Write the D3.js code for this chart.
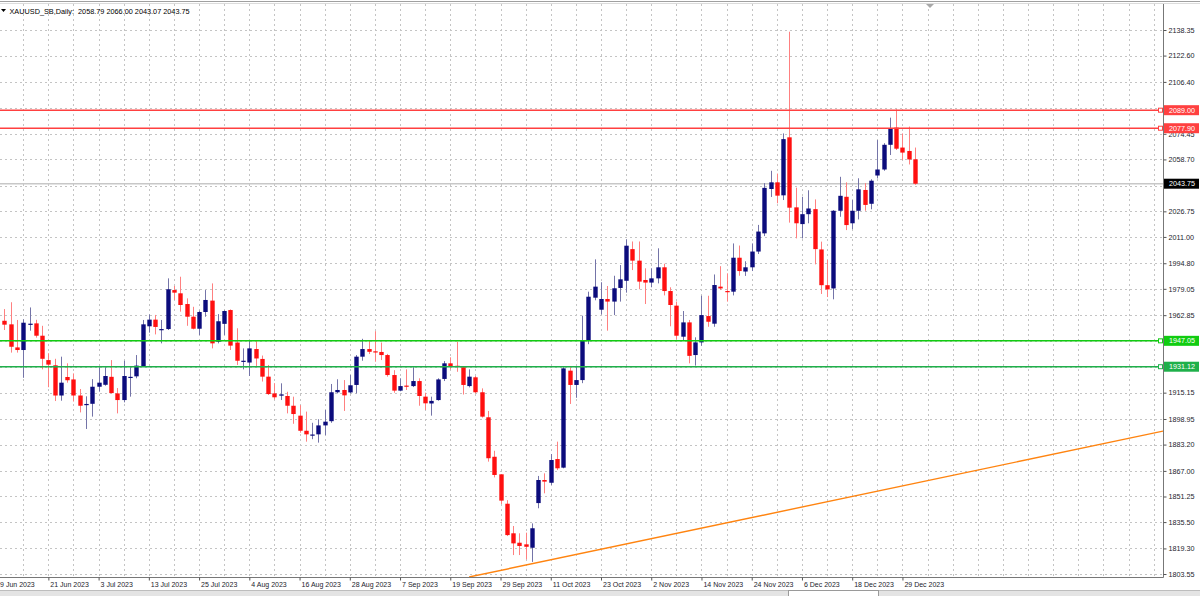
<!DOCTYPE html>
<html>
<head>
<meta charset="utf-8">
<script src="https://cdn.jsdelivr.net/npm/d3@7"></script>
<style>
html, body { margin: 0; padding: 0; background: #fff; }
svg { display: block; font-family: "Liberation Sans", Arial, sans-serif; }
</style>
</head>
<body>
<div id="chart"></div>
<script>
// daily bars, index 0 = 12 Jun 2023, last = 3 Jan 2024
const open = [1959.4,1957.2,1943.0,1941.4,1957.0,1957.8,1950.2,1935.2,1932.0,1913.4,
  1924.8,1923.3,1913.4,1907.8,1908.3,1918.8,1920.0,1924.9,1914.7,1910.6,
  1924.6,1925.2,1931.5,1956.0,1960.1,1954.0,1954.3,1978.3,1976.3,1969.7,
  1961.9,1954.5,1964.8,1971.8,1946.5,1957.5,1966.0,1946.0,1934.3,1933.7,
  1942.0,1935.9,1925.0,1914.7,1913.3,1913.1,1907.1,1901.0,1891.7,1889.0,
  1889.5,1895.0,1897.6,1915.4,1916.8,1915.3,1919.9,1937.3,1942.0,1940.6,
  1940.2,1938.3,1926.0,1916.4,1919.5,1919.2,1922.3,1912.7,1908.5,1910.6,
  1923.6,1933.2,1931.7,1930.8,1919.2,1924.6,1915.4,1900.0,1875.7,1864.9,
  1846.8,1828.6,1822.8,1821.8,1819.7,1847.2,1861.4,1859.7,1874.3,1869.0,
  1928.7,1919.9,1922.9,1947.0,1973.6,1966.2,1972.8,1971.2,1979.6,1984.0,
  2003.5,1996.4,1984.5,1982.9,1985.5,1992.3,1977.7,1968.7,1949.6,1958.4,
  1938.3,1946.1,1962.3,1957.6,1980.4,1977.7,1977.3,1998.2,1989.7,1992.3,
  2002.0,2013.2,2040.5,2044.6,2036.6,2072.3,2029.2,2018.9,2025.0,2028.1,
  2003.3,1981.3,1979.3,2027.1,2035.7,2019.4,2027.1,2039.9,2031.4,2048.8,
  2052.5,2067.7,2078.3,2066.0,2063.9,2058.79];
const high = [1966.6,1970.8,1959.9,1960.3,1967.6,1960.0,1956.3,1939.4,1936.0,1937.3,
  1933.2,1927.0,1917.4,1912.9,1923.5,1930.8,1930.8,1935.2,1918.0,1934.8,
  1930.8,1938.3,1959.9,1963.3,1963.0,1959.9,1985.5,1980.8,1986.5,1973.2,
  1968.0,1965.6,1978.3,1982.4,1963.5,1965.8,1966.4,1954.8,1942.4,1947.5,
  1947.5,1938.0,1932.2,1921.0,1920.9,1915.7,1912.7,1907.5,1903.5,1896.6,
  1898.8,1904.5,1920.5,1923.4,1922.9,1926.0,1938.3,1948.3,1947.5,1953.0,
  1946.0,1939.0,1929.0,1924.0,1929.5,1930.8,1924.0,1915.1,1912.7,1924.0,
  1934.6,1936.9,1946.5,1930.8,1929.5,1925.4,1917.8,1903.9,1879.4,1864.9,
  1849.0,1833.1,1828.6,1829.0,1834.7,1863.9,1865.5,1877.4,1885.0,1930.8,
  1930.8,1931.5,1962.5,1977.3,1997.2,1983.1,1980.8,1987.1,1993.7,2009.5,
  2008.2,2008.2,1991.7,1991.7,2004.0,1994.5,1980.0,1971.2,1965.4,1959.9,
  1949.2,1974.8,1974.8,1987.9,1993.0,1988.6,2007.0,2005.7,1996.0,2007.0,
  2018.4,2044.1,2051.7,2050.0,2074.7,2137.3,2041.3,2035.7,2039.7,2034.1,
  2008.1,1996.8,2027.5,2048.0,2044.6,2033.7,2047.1,2044.1,2046.5,2070.6,
  2068.7,2084.4,2089.5,2074.7,2078.9,2066.00];
const low = [1953.7,1939.8,1939.8,1924.3,1953.3,1949.0,1929.5,1918.5,1910.0,1910.2,
  1921.3,1909.7,1903.0,1892.8,1900.4,1915.8,1919.4,1914.7,1902.4,1909.2,
  1912.7,1924.0,1931.1,1952.1,1951.0,1945.5,1953.7,1972.2,1965.0,1956.3,
  1954.1,1950.6,1961.9,1942.4,1945.5,1950.6,1941.4,1932.2,1929.5,1925.4,
  1931.5,1922.0,1913.7,1911.0,1910.6,1902.4,1896.0,1890.5,1885.0,1886.5,
  1884.4,1889.0,1896.6,1914.7,1903.9,1914.7,1914.7,1934.8,1938.9,1934.2,
  1935.2,1925.0,1915.1,1916.0,1916.8,1918.6,1907.1,1904.5,1901.0,1910.2,
  1922.3,1929.5,1928.0,1914.0,1918.4,1914.7,1899.8,1872.7,1863.0,1846.6,
  1826.9,1815.2,1815.2,1812.6,1811.0,1844.0,1853.2,1858.3,1867.5,1868.6,
  1908.2,1912.0,1921.0,1945.0,1972.0,1963.3,1953.3,1962.9,1971.2,1976.7,
  1990.6,1978.8,1969.7,1980.0,1982.4,1975.0,1956.0,1948.0,1947.5,1933.2,
  1931.8,1944.0,1955.7,1955.7,1978.3,1971.2,1975.0,1987.1,1987.0,1990.0,
  2000.5,2011.5,2035.6,2031.7,2033.7,2019.8,2010.1,2010.1,2019.4,1994.1,
  1975.9,1974.0,1972.6,2023.4,2015.2,2015.8,2021.8,2027.1,2028.0,2047.0,
  2051.7,2061.4,2064.5,2058.3,2055.6,2043.07];
const close = [1957.0,1943.4,1941.4,1958.2,1957.6,1950.2,1936.0,1932.4,1913.4,1921.3,
  1922.8,1913.4,1907.1,1908.2,1918.8,1921.3,1925.4,1914.9,1910.6,1925.4,
  1924.9,1931.8,1957.2,1960.1,1955.6,1954.3,1978.8,1976.7,1969.1,1961.9,
  1954.5,1964.8,1972.2,1945.5,1959.1,1965.4,1944.1,1934.8,1934.8,1942.4,
  1936.2,1925.0,1914.3,1912.3,1914.1,1907.1,1902.0,1891.7,1889.5,1889.4,
  1895.0,1897.3,1915.4,1916.8,1913.5,1919.7,1937.3,1942.0,1940.3,1940.2,
  1938.3,1926.0,1916.4,1919.2,1919.2,1922.3,1913.1,1908.6,1910.1,1923.3,
  1933.2,1931.5,1931.5,1919.9,1925.0,1915.4,1900.4,1874.8,1864.5,1848.7,
  1827.5,1822.4,1820.8,1820.3,1831.7,1861.4,1860.4,1873.7,1868.6,1930.1,
  1919.9,1922.9,1947.1,1974.2,1980.4,1972.8,1971.2,1979.4,1984.9,2005.6,
  1996.4,1983.5,1982.9,1985.5,1992.3,1977.7,1969.1,1950.2,1958.4,1937.8,
  1946.1,1962.9,1958.8,1981.4,1979.3,1977.3,1998.2,1990.0,1992.3,2002.0,
  2014.3,2041.2,2044.6,2036.4,2071.2,2029.0,2019.4,2025.0,2028.5,2003.5,
  1981.3,1978.7,2027.1,2036.3,2018.3,2027.1,2040.3,2030.7,2045.6,2052.5,
  2067.7,2077.6,2065.3,2062.9,2058.7,2043.75];

// time axis labels (bar index -> text)
const labelBars = [-1,7,15,23,31,39,47,55,63,71,79,87,95,103,111,119,127,135,143];
const labelText = ["9 Jun 2023","21 Jun 2023","3 Jul 2023","13 Jul 2023","25 Jul 2023",
  "4 Aug 2023","16 Aug 2023","28 Aug 2023","7 Sep 2023","19 Sep 2023","29 Sep 2023",
  "11 Oct 2023","23 Oct 2023","2 Nov 2023","14 Nov 2023","24 Nov 2023","6 Dec 2023",
  "18 Dec 2023","29 Dec 2023"];

// price grid lines, and the labels that show (others sit under the level boxes)
const priceGrid = [2138.35,2122.60,2106.40,2090.65,2074.45,2058.70,2042.50,2026.75,2011.00,
  1994.80,1979.05,1962.85,1947.10,1930.90,1915.15,1898.95,1883.20,1867.00,1851.25,
  1835.50,1819.30,1803.55];
const priceLabels = [2138.35,2122.60,2106.40,2074.45,2058.70,2026.75,2011.00,
  1994.80,1979.05,1962.85,1915.15,1898.95,1883.20,1867.00,1851.25,
  1835.50,1819.30,1803.55];

// horizontal levels
const levelPrices = [2089.00, 2077.90, 1947.05, 1931.12];
const levelColors = ["#ff4040", "#ff4040", "#11cc11", "#1fb04a"];
const bidPrice = 2043.75;

// trend line anchors (bar index, price)
const trendBars = [74, 145];
const trendPrices = [1801.7, 1859.4];

const title = "XAUUSD_SB,Daily:  2058.79 2066.00 2043.07 2043.75";

const W = 1200, H = 596;
const plotR = 1163, plotT = 4, plotB = 577;

const svg = d3.select("#chart").append("svg")
  .attr("width", W).attr("height", H);

const x = d3.scaleLinear().domain([0, 145]).range([4.4, 915.0]);
const y = d3.scaleLinear().domain([1803.55, 2138.35]).range([574, 30]);

svg.append("defs").append("clipPath").attr("id", "plot")
  .append("rect").attr("x", 0).attr("y", plotT).attr("width", plotR).attr("height", plotB - plotT);

// grid
const grid = svg.append("g").attr("clip-path", "url(#plot)");
grid.selectAll("line.h").data(priceGrid).enter().append("line")
  .attr("x1", 0).attr("x2", plotR)
  .attr("y1", d => Math.round(y(d)) + 0.5).attr("y2", d => Math.round(y(d)) + 0.5)
  .attr("stroke", "#c4c4c4").attr("stroke-dasharray", "2,3");
grid.selectAll("line.v").data(d3.range(3, 185, 4)).enter().append("line")
  .attr("y1", plotT).attr("y2", plotB)
  .attr("x1", d => Math.round(x(d)) + 0.5).attr("x2", d => Math.round(x(d)) + 0.5)
  .attr("stroke", "#c4c4c4").attr("stroke-dasharray", "2,3");

const bars = d3.range(open.length);
const plot = svg.append("g").attr("clip-path", "url(#plot)");

// bid line
plot.append("line")
  .attr("x1", 0).attr("x2", plotR)
  .attr("y1", y(bidPrice)).attr("y2", y(bidPrice))
  .attr("stroke", "#c8c8c8").attr("stroke-width", 1.6);

// trend line, extended to the right edge
const slope = (trendPrices[1] - trendPrices[0]) / (trendBars[1] - trendBars[0]);
const endBar = x.invert(plotR);
plot.append("line")
  .attr("x1", x(trendBars[0])).attr("y1", y(trendPrices[0]))
  .attr("x2", plotR).attr("y2", y(trendPrices[0] + slope * (endBar - trendBars[0])))
  .attr("stroke", "#ff8410").attr("stroke-width", 1.4);

// candles
const up = i => close[i] >= open[i];
plot.selectAll("line.wick").data(bars).enter().append("line")
  .attr("x1", i => Math.round(x(i)) + 0.5).attr("x2", i => Math.round(x(i)) + 0.5)
  .attr("y1", i => y(high[i])).attr("y2", i => y(low[i]))
  .attr("stroke", i => up(i) ? "#7474a8" : "#ff8080").attr("stroke-width", 1);
plot.selectAll("rect.body").data(bars).enter().append("rect")
  .attr("x", i => Math.round(x(i)) - 1.7)
  .attr("width", 4.4)
  .attr("y", i => y(Math.max(open[i], close[i])))
  .attr("height", i => Math.max(1.2, Math.abs(y(open[i]) - y(close[i]))))
  .attr("fill", i => up(i) ? "#0c0c7c" : "#ff1010");

// levels
plot.selectAll("line.level").data(levelPrices).enter().append("line")
  .attr("x1", 0).attr("x2", plotR)
  .attr("y1", d => y(d)).attr("y2", d => y(d))
  .attr("stroke", (d, i) => levelColors[i]).attr("stroke-width", 1.5);
svg.selectAll("rect.mark").data(levelPrices).enter().append("rect")
  .attr("x", plotR - 4.5).attr("y", d => y(d) - 2)
  .attr("width", 4).attr("height", 4)
  .attr("fill", "#fff").attr("stroke", (d, i) => levelColors[i]).attr("stroke-width", 1);

// frame
svg.append("line").attr("x1", 0).attr("x2", plotR + 0.5).attr("y1", plotB + 0.5).attr("y2", plotB + 0.5)
  .attr("stroke", "#777");
svg.append("line").attr("x1", plotR + 0.5).attr("x2", plotR + 0.5).attr("y1", plotT).attr("y2", plotB + 0.5)
  .attr("stroke", "#777");
svg.append("line").attr("x1", 0).attr("x2", W).attr("y1", 1.5).attr("y2", 1.5).attr("stroke", "#a0a0a0");
svg.append("line").attr("x1", 0).attr("x2", W).attr("y1", 3.5).attr("y2", 3.5).attr("stroke", "#dcdcdc");

// price axis
const yAxis = svg.append("g").attr("transform", `translate(${plotR + 0.5},0)`)
  .call(d3.axisRight(y).tickValues(priceLabels).tickSize(3).tickPadding(2)
    .tickFormat(d => d.toFixed(2)));
yAxis.select(".domain").remove();
yAxis.selectAll("line").attr("stroke", "#555");
yAxis.selectAll("text").attr("font-size", 7.2).attr("fill", "#1c1c2c")
  .attr("font-family", "Liberation Sans, Arial, sans-serif");

// time axis
const xAxis = svg.append("g").attr("transform", `translate(0,${plotB + 0.5})`)
  .call(d3.axisBottom(x).tickValues(labelBars).tickSize(3).tickPadding(2)
    .tickFormat((d, i) => labelText[i]));
xAxis.select(".domain").remove();
xAxis.selectAll("line").attr("stroke", "#555");
xAxis.selectAll("text").attr("font-size", 7).attr("fill", "#1c1c2c")
  .attr("text-anchor", "start").attr("x", 1.5)
  .attr("font-family", "Liberation Sans, Arial, sans-serif");

// level price boxes
const boxes = svg.append("g");
const levelAll = levelPrices.concat([bidPrice]);
const boxColor = levelColors.concat(["#000"]);
boxes.selectAll("rect").data(levelAll).enter().append("rect")
  .attr("x", plotR + 1).attr("y", d => y(d) - 5)
  .attr("width", 35).attr("height", 10)
  .attr("fill", (d, i) => boxColor[i]);
boxes.selectAll("text").data(levelAll).enter().append("text")
  .attr("x", plotR + 6).attr("y", d => y(d) + 2.6)
  .attr("font-size", 7.2).attr("fill", "#fff")
  .text(d => d.toFixed(2));

// title
svg.append("path").attr("d", "M1,9 L6,9 L3.5,12 Z").attr("fill", "#000");
svg.append("text").attr("x", 9.5).attr("y", 13.5)
  .attr("font-size", 7.3).attr("fill", "#000").attr("xml:space", "preserve")
  .style("white-space", "pre").text(title);

// chart shift marker
svg.append("path").attr("d", "M926,4 L934,4 L930,8 Z").attr("fill", "#a8a8a8");

// bottom tab strip
svg.append("rect").attr("x", 0).attr("y", 590).attr("width", W).attr("height", 6).attr("fill", "#e4e4e4");
svg.append("line").attr("x1", 0).attr("x2", W).attr("y1", 590.5).attr("y2", 590.5).attr("stroke", "#bdbdbd");
svg.append("rect").attr("x", 788.5).attr("y", 590.5).attr("width", 90).attr("height", 6)
  .attr("fill", "#fff").attr("stroke", "#9a9a9a");
</script>
</body>
</html>
